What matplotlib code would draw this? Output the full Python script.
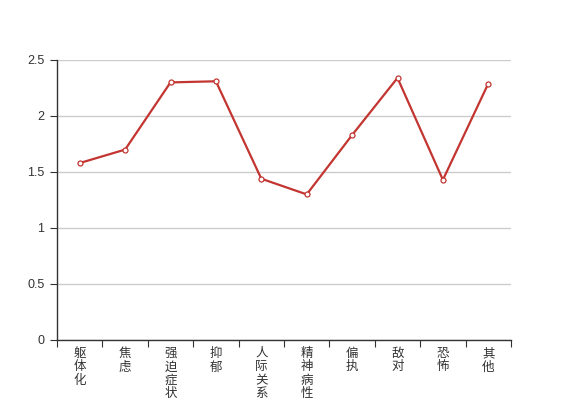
import numpy as np
import matplotlib
matplotlib.use("Agg")
import matplotlib.pyplot as plt

plt.rcParams['font.family'] = ['Noto Sans CJK SC', 'DejaVu Sans']

# DONNEES
categories = ["躯体化", "焦虑", "强迫症状", "抑郁", "人际关系敏感", "精神病性", "偏执", "敌对", "恐怖", "其他"]
valeurs = [1.58, 1.70, 2.30, 2.31, 1.44, 1.30, 1.83, 2.34, 1.43, 2.29]

couleur = "#c23531"
axe_col = "#333333"

fig = plt.figure(figsize=(5.67, 4.0), dpi=100)
ax = fig.add_axes([57/567, 60/400, (511-57)/567, 280/400])

x = np.arange(len(categories))
ax.plot(x, valeurs, color=couleur, lw=1.6, marker="o", ms=3.6,
        mfc="white", mec=couleur, mew=0.9, zorder=3, clip_on=False)

# AXES
ax.set_xlim(-0.5, len(categories) - 0.5)
ax.set_ylim(0, 2.5)
ax.set_yticks([0, 0.5, 1, 1.5, 2, 2.5])
ax.set_yticklabels(["0", "0.5", "1", "1.5", "2", "2.5"], family="Liberation Sans")
ax.grid(axis="y", color="#cccccc", lw=1)
ax.set_axisbelow(True)

ax.set_xticks(np.arange(-0.5, len(categories)), minor=False)
ax.set_xticklabels([])
ax.set_xticks(x, minor=True)
ax.set_xticklabels(["\n".join(c) for c in categories], minor=True,
                   va="top", linespacing=1.05)

ax.tick_params(axis="x", which="major", length=5, color=axe_col, direction="out")
ax.tick_params(axis="x", which="minor", length=0, pad=5, labelsize=9, labelcolor=axe_col)
ax.tick_params(axis="y", length=5, color=axe_col, labelsize=9, labelcolor=axe_col, pad=4)

for s in ["top", "right"]:
    ax.spines[s].set_visible(False)
for s in ["left", "bottom"]:
    ax.spines[s].set_color(axe_col)
    ax.spines[s].set_linewidth(1)

fig.savefig("out.png", dpi=100)
